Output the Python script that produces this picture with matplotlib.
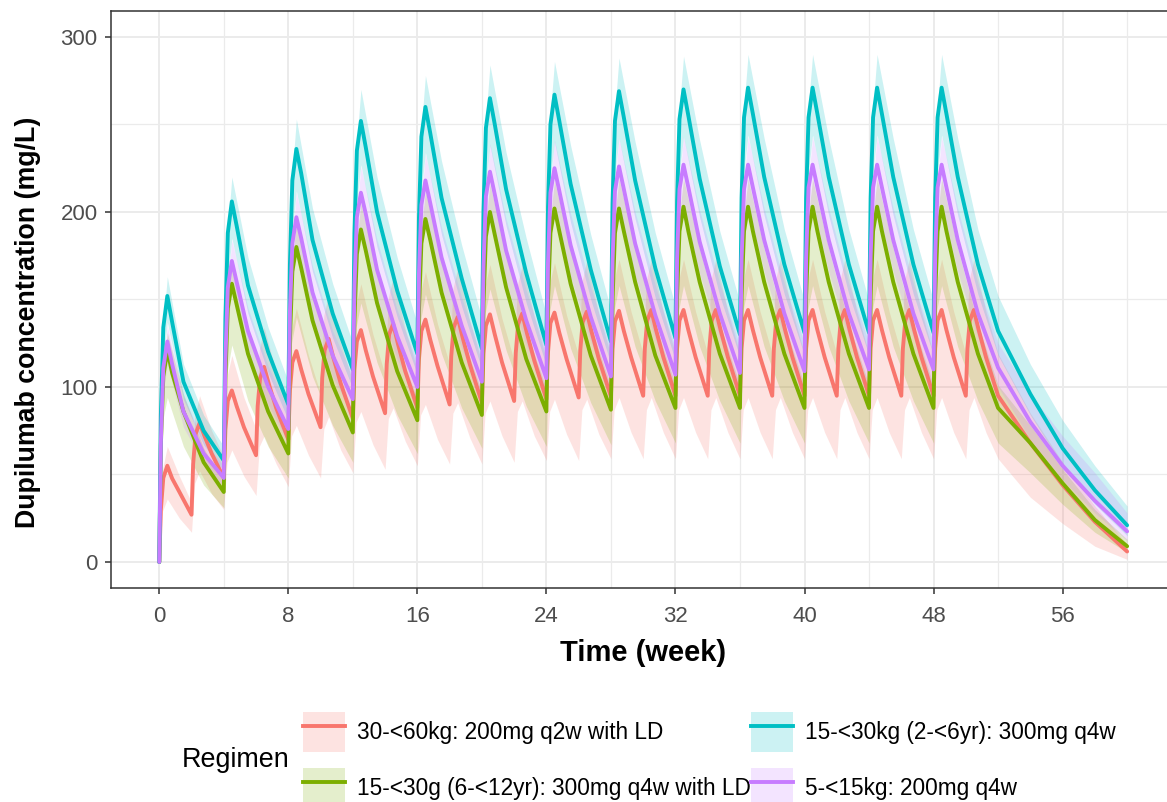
import numpy as np
import matplotlib
matplotlib.use("Agg")
import matplotlib.pyplot as plt
from matplotlib.patches import Patch
from matplotlib.lines import Line2D
from matplotlib.legend_handler import HandlerTuple

# dosing schedules (weeks) and sampling offsets after each dose
q4w_doses = [0, 4, 8, 12, 16, 20, 24, 28, 32, 36, 40, 44, 48]
q2w_doses = [0, 2, 4, 6, 8, 10, 12, 14, 16, 18, 20, 22, 24, 26, 28, 30, 32,
             34, 36, 38, 40, 42, 44, 46, 48, 50]
q4w_line_offsets = [0.1, 0.25, 0.5, 0.8, 1.5, 2.75, 4.0]
q2w_line_offsets = [0.1, 0.25, 0.5, 0.8, 1.25, 2.0]
q4w_band_offsets = [0.2, 0.5, 1.5, 2.75, 4.0]
q2w_band_offsets = [0.2, 0.5, 1.25, 2.0]
tail_weeks = [54, 56, 58, 60]

regimens = [
    "30-<60kg: 200mg q2w with LD",
    "15-<30g (6-<12yr): 300mg q4w with LD",
    "15-<30kg (2-<6yr): 300mg q4w",
    "5-<15kg: 200mg q4w",
]
colors = ["#F8766D", "#7CAE00", "#00BFC4", "#C77CFF"]

# median concentration (mg/L), one row per dosing interval, then washout
red_med = ([0,
            30, 48, 55, 47.7, 40, 27,
            56, 73, 79.5, 72, 62, 48,
            75.5, 92, 98, 89, 77, 61,
            89, 105, 111.5, 101.5, 88, 70,
            98, 114, 120.5, 110, 96, 77,
            105, 121, 127.5, 116.5, 102, 82,
            110, 126, 132.5, 121, 106, 85,
            113, 130, 136, 124.5, 109, 88,
            116, 132, 138.5, 127, 112, 90,
            117.5, 134, 140, 128.5, 113, 91,
            119, 135, 141.5, 130, 114, 92,
            119.5, 136, 142, 130.5, 115, 93,
            120, 136.5, 142.5, 131, 116, 94,
            121, 137, 143, 131.5, 116, 94.5,
            121.5, 137.5, 143.5, 132, 117, 95]
           + [122, 138, 144, 132.5, 117, 95] * 11
           + [68, 44, 23, 6])
red_lo = ([0,
           29, 36, 25, 17,
           45, 52, 39, 30,
           57, 64, 49, 38,
           66, 72, 56, 43,
           72, 78, 61, 48,
           76, 83, 64, 51,
           80, 86, 67, 53,
           82, 88, 69, 55,
           84, 90, 70, 56,
           85, 91, 71, 56,
           85, 92, 72, 57,
           86, 92, 72, 58,
           86, 93, 73, 58,
           87, 93, 73, 59,
           87, 94, 74, 59]
          + [87, 94, 74, 59] * 11
          + [37, 22, 9, 1.5])
red_hi = ([0,
           53, 66, 49, 34,
           83, 95, 75, 60,
           106, 118, 94, 76,
           121, 134, 108, 88,
           133, 145, 118, 96,
           141, 153, 125, 103,
           147, 159, 130, 107,
           151, 163, 133, 110,
           154, 166, 136, 113,
           156, 168, 138, 114,
           158, 170, 139, 115,
           158, 170, 140, 116,
           159, 171, 141, 118,
           160, 172, 142, 118,
           161, 173, 143, 119]
          + [161, 173, 143, 119] * 11
          + [85, 57, 32, 10])

green_med = [0,
             67, 106, 121, 108, 86, 57, 40,
             105, 145, 159, 147, 119, 86, 62,
             127, 166, 180, 168, 138, 101, 74,
             138, 176, 190, 178, 148, 109, 81,
             144, 182, 196, 184, 154, 114, 84,
             148, 186, 200, 187, 157, 116, 86,
             150, 188, 202, 189, 159, 118, 87,
             150, 188, 202, 189, 160, 118, 88,
             152, 189, 203, 189, 160, 119, 88,
             152, 189, 203, 189, 160, 119, 88,
             152, 189, 203, 189, 160, 119, 88,
             152, 189, 203, 189, 160, 119, 88,
             152, 189, 203, 189, 160, 119, 88,
             68, 45, 24, 9]
green_lo = [0,
            80, 94, 66, 44, 31,
            108, 124, 92, 66, 48,
            125, 140, 106, 78, 57,
            134, 148, 114, 84, 62,
            138, 153, 119, 88, 65,
            142, 156, 121, 89, 66,
            143, 158, 122, 91, 67,
            144, 158, 123, 92, 68,
            144, 158, 123, 92, 68,
            144, 158, 123, 92, 68,
            144, 158, 123, 92, 68,
            144, 158, 123, 92, 68,
            144, 158, 123, 92, 68,
            51, 33, 17, 5.5]
green_hi = [0,
            108, 131, 96, 65, 46,
            146, 172, 133, 98, 71,
            168, 194, 155, 115, 85,
            180, 205, 166, 124, 93,
            187, 212, 172, 130, 97,
            191, 216, 176, 132, 99,
            193, 218, 178, 135, 100,
            194, 219, 179, 136, 101,
            194, 219, 179, 136, 101,
            194, 219, 179, 136, 101,
            194, 219, 179, 136, 101,
            194, 219, 179, 136, 101,
            194, 219, 179, 136, 101,
            78, 53, 30, 13]

cyan_med = [0,
            84, 134, 152, 137, 103, 75, 58,
            139, 188, 206, 192, 158, 120, 90,
            170, 218, 236, 222, 184, 142, 110,
            188, 235, 252, 237, 200, 155, 119,
            197, 243, 260, 245, 208, 162, 122,
            201, 248, 265, 250, 213, 165, 124,
            203, 250, 267, 252, 216, 167, 126,
            205, 252, 269, 254, 218, 168, 128,
            206, 253, 270, 255, 219, 169, 130,
            208, 254, 271, 256, 220, 170, 131,
            208, 254, 271, 256, 220, 170, 131,
            208, 254, 271, 256, 220, 170, 131,
            208, 254, 271, 256, 220, 170, 132,
            96, 65, 41, 21]
cyan_lo = [0,
           112, 137, 93, 67, 52,
           158, 185, 142, 108, 81,
           186, 212, 166, 128, 99,
           202, 227, 180, 140, 107,
           208, 234, 187, 146, 110,
           212, 238, 192, 148, 112,
           215, 240, 194, 150, 113,
           217, 242, 196, 151, 115,
           218, 243, 197, 152, 117,
           219, 244, 198, 153, 118,
           219, 244, 198, 153, 118,
           219, 244, 198, 153, 118,
           219, 244, 198, 153, 118,
           84, 55, 33, 15]
cyan_hi = [0,
           131, 163, 113, 84, 66,
           185, 220, 174, 134, 103,
           217, 253, 202, 159, 125,
           235, 270, 220, 174, 136,
           243, 278, 229, 181, 139,
           248, 284, 234, 185, 141,
           251, 286, 238, 187, 144,
           253, 288, 240, 188, 146,
           254, 289, 241, 189, 148,
           255, 290, 242, 190, 149,
           255, 290, 242, 190, 149,
           255, 290, 242, 190, 149,
           255, 290, 242, 190, 152,
           113, 81, 55, 32]

purple_med = [0,
              69, 111, 126, 113, 86, 62, 48,
              116, 157, 172, 160, 132, 100, 76,
              143, 182, 197, 185, 154, 118, 93,
              158, 197, 211, 199, 167, 129, 100,
              165, 204, 218, 205, 174, 135, 103,
              169, 209, 223, 210, 178, 138, 105,
              171, 211, 225, 212, 181, 140, 106,
              172, 212, 226, 213, 182, 141, 107,
              173, 213, 227, 214, 183, 142, 108,
              173, 213, 227, 214, 184, 142, 109,
              174, 214, 227, 214, 184, 142, 110,
              175, 214, 227, 214, 184, 142, 110,
              175, 214, 227, 214, 184, 142, 111,
              80, 55, 35, 17.5]
purple_lo = [0,
             94, 113, 77, 56, 43,
             132, 155, 119, 90, 68,
             156, 177, 139, 106, 84,
             168, 190, 150, 116, 90,
             175, 196, 157, 122, 93,
             178, 201, 160, 124, 95,
             181, 203, 163, 126, 95,
             182, 203, 164, 127, 96,
             183, 204, 165, 128, 97,
             184, 204, 166, 128, 99,
             184, 204, 166, 128, 99,
             184, 204, 166, 128, 99,
             184, 204, 166, 128, 100,
             70, 47, 28, 12]
purple_hi = [0,
             109, 135, 95, 69, 55,
             154, 184, 145, 112, 87,
             182, 211, 169, 132, 106,
             196, 226, 184, 144, 114,
             204, 233, 191, 151, 117,
             208, 239, 196, 155, 120,
             211, 241, 199, 157, 121,
             212, 242, 200, 158, 122,
             213, 243, 201, 159, 123,
             214, 243, 202, 159, 125,
             214, 243, 202, 159, 125,
             214, 243, 202, 159, 125,
             214, 243, 202, 159, 125,
             96, 72, 51, 28]


def sample_weeks(doses, offsets):
    return np.array([0.0] + [d + o for d in doses for o in offsets] + tail_weeks)


line_q2w = sample_weeks(q2w_doses, q2w_line_offsets)
line_q4w = sample_weeks(q4w_doses, q4w_line_offsets)
band_q2w = sample_weeks(q2w_doses, q2w_band_offsets)
band_q4w = sample_weeks(q4w_doses, q4w_band_offsets)

series = [
    (line_q2w, red_med, band_q2w, red_lo, red_hi),
    (line_q4w, green_med, band_q4w, green_lo, green_hi),
    (line_q4w, cyan_med, band_q4w, cyan_lo, cyan_hi),
    (line_q4w, purple_med, band_q4w, purple_lo, purple_hi),
]

plt.rcParams['font.family'] = ['Liberation Sans', 'DejaVu Sans']

fig = plt.figure(figsize=(11.67, 8.02), dpi=100)
ax = fig.add_axes([0.0950, 0.2665, 0.9123, 0.7202])

# ribbons first, then the median lines on top
for (tl, med, tb, lo, hi), c in zip(series, colors):
    ax.fill_between(tb, lo, hi, color=c, alpha=0.2, lw=0)
for (tl, med, tb, lo, hi), c in zip(series, colors):
    ax.plot(tl, med, color=c, lw=2.8, solid_joinstyle='round',
            solid_capstyle='round')

ax.set_xlim(-3, 63)
ax.set_ylim(-15, 315)
ax.set_xticks(np.arange(0, 57, 8))
ax.set_xticks(np.arange(4, 61, 8), minor=True)
ax.set_yticks([0, 100, 200, 300])
ax.set_yticks([50, 150, 250], minor=True)
ax.grid(which='major', color='#EBEBEB', lw=1.4)
ax.grid(which='minor', color='#EBEBEB', lw=0.9)
ax.set_axisbelow(True)
ax.tick_params(which='major', length=4.5, width=1.1, color='#333333',
               labelcolor='#4D4D4D', labelsize=16, pad=5)
ax.tick_params(axis='x', which='major', pad=8)
ax.tick_params(which='minor', length=0)
for s in ax.spines.values():
    s.set_color('#333333')
    s.set_linewidth(1.1)

ax.set_xlabel('Time (week)', fontsize=21, fontweight='bold', labelpad=9)
fig.text(28 / 1167, 1 - 322 / 802, 'Dupilumab concentration (mg/L)',
         rotation=90, ha='center', va='center', fontsize=19.3,
         fontweight='bold')

handles = [(Patch(facecolor=c, alpha=0.2, edgecolor='none'),
            Line2D([], [], color=c, lw=2.8)) for c in colors]
fig.legend(handles, regimens, handler_map={tuple: HandlerTuple(ndivide=1)},
           ncol=2, loc='upper left', bbox_to_anchor=(303 / 1167, 1 - 712 / 802),
           frameon=False, fontsize=16.3, handlelength=1.86, handleheight=2.36,
           handletextpad=0.53, columnspacing=0.0, labelspacing=0.7,
           borderpad=0, borderaxespad=0)
fig.text(182 / 1167, 1 - 760 / 802, 'Regimen', ha='left', va='center',
         fontsize=19.4)

fig.savefig('out.png', dpi=100)
